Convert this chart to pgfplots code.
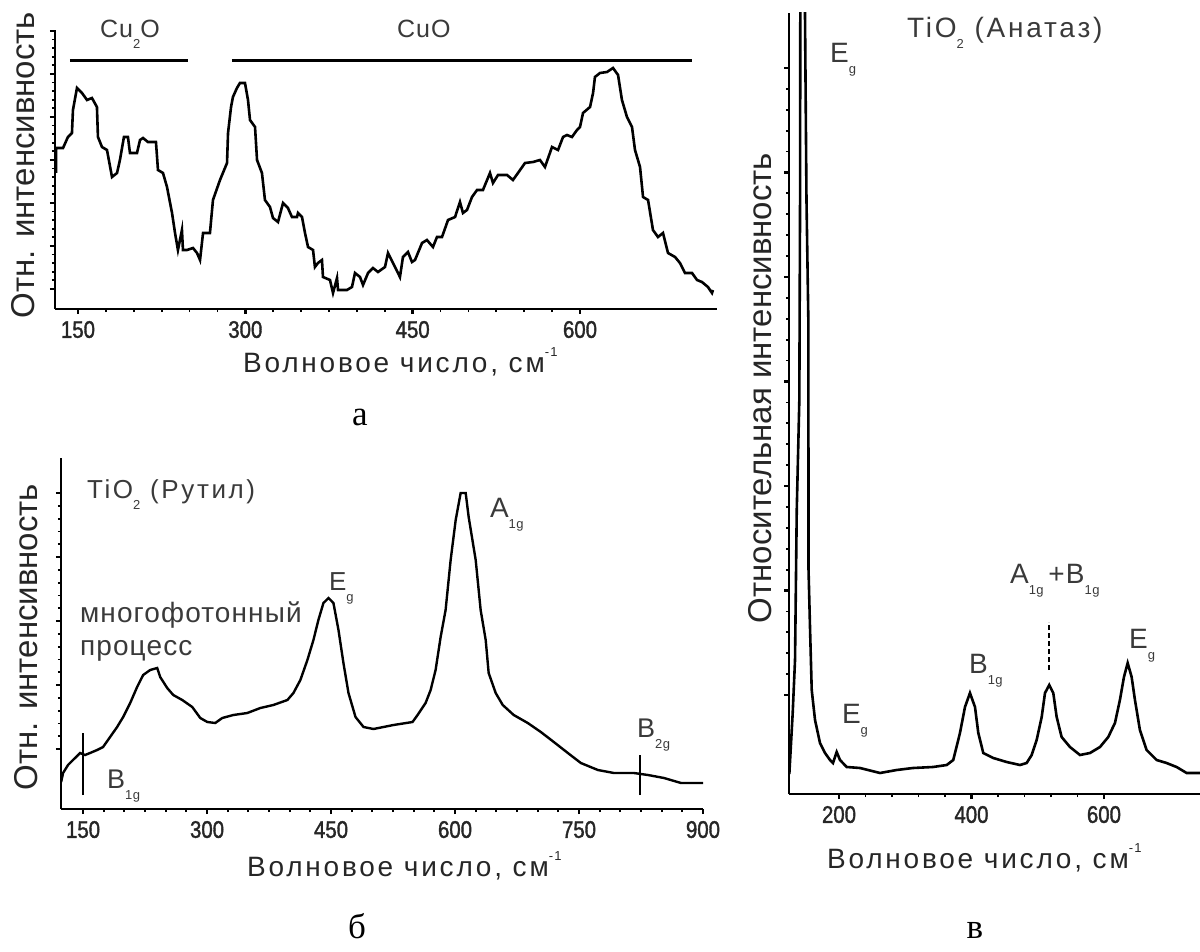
\documentclass[border=0pt]{standalone}
\usepackage{fontspec}
\setmainfont{Liberation Sans}
\newfontfamily\capfont{Liberation Serif}
\newfontfamily\tickfont[FakeStretch=0.85,FakeBold=1.5]{Liberation Sans}
\newfontfamily\spfont[LetterSpace=10]{Liberation Sans}
\newfontfamily\annfont[LetterSpace=4]{Liberation Sans}
\usepackage{pgfplots}
\pgfplotsset{compat=1.18}
\definecolor{txt}{HTML}{262626}
\definecolor{ann}{HTML}{3A3A3A}
\newcommand{\sub}[1]{\raisebox{-5.5pt}{\fontsize{6.5}{6.5}\selectfont #1}}
\newcommand{\cm}{см\raisebox{8pt}{\fontsize{6.5}{6.5}\selectfont -1}}
\pgfplotsset{
  panel/.style={
    scale only axis,
    anchor=south west,
    axis lines=left,
    axis line style={-, line width=1.3pt},
    tick align=outside,
    major tick length=2.5pt,
    minor tick length=1.6pt,
    major tick style={line width=1.2pt, black},
    minor tick style={line width=0.9pt, black},
    yticklabels={},
    /pgf/number format/assume math mode=true,
    xticklabel style={font=\tickfont\fontsize{12}{12}\selectfont, text=txt},
    clip=true,
  }
}
\begin{document}
\begin{tikzpicture}
\path[use as bounding box] (0,0) rectangle (600pt,-476pt);

% ---------- panel a ----------
\begin{axis}[panel, at={(27.5pt,-154.5pt)}, width=331pt, height=139.5pt,
  xmin=129.4, xmax=722.8, ymin=0, ymax=279,
  xtick={150,300,450,600}, minor x tick num=5,
  ytick={20,63,106,149,192,235,278}, minor y tick num=4]
\addplot[black, line width=1.3pt] coordinates {
(130.3,136)(130.3,161)(136.6,161)(141.0,172)(144.6,176)(145.5,199)(149.1,221)(153.6,216)(158.1,209)(162.5,211)(167.0,202)(167.9,172)(171.5,162)(176.0,159)(180.5,132)(185.0,136)(187.6,149)(191.2,172)(194.8,172)(196.6,156)(202.9,156)(205.6,169)(208.3,171)(212.7,167)(219.9,167)(221.7,139)(226.2,136)(229.8,122)(234.3,96)(237.0,76)(239.6,59)(243.2,79)(244.1,59)(247.7,59)(253.1,61)(256.7,56)(259.4,49)(262.1,76)(268.3,76)(271.0,109)(277.3,129)(283.6,146)(284.5,176)(287.2,202)(288.9,212)(292.5,221)(295.2,226)(299.7,226)(302.4,209)(304.2,189)(308.7,182)(310.5,149)(314.9,136)(317.6,109)(322.1,102)(324.8,91)(329.3,87)(333.8,106)(338.2,101)(341.8,92)(346.3,92)(347.2,96)(350.8,92)(353.5,76)(356.2,62)(360.7,59)(362.4,42)(365.1,46)(368.7,49)(369.6,32)(375.9,29)(378.6,16)(382.2,31)(383.1,19)(391.1,19)(395.6,22)(398.3,36)(402.8,32)(405.5,24)(410.0,36)(414.4,41)(418.9,37)(425.2,42)(427.9,56)(432.4,46)(438.6,32)(441.3,52)(445.8,57)(449.4,47)(452.1,49)(458.4,66)(462.8,69)(468.2,62)(471.8,72)(476.3,72)(481.7,89)(488.0,92)(492.4,107)(495.1,96)(498.7,99)(503.2,112)(507.7,119)(513.0,119)(519.3,136)(522.0,126)(526.5,134)(534.6,134)(539.9,129)(544.4,136)(550.7,146)(557.9,147)(564.1,149)(568.6,142)(574.9,162)(580.3,159)(584.8,172)(588.3,174)(592.8,172)(597.3,179)(600.0,182)(602.7,196)(609.0,202)(611.7,216)(613.4,232)(617.9,236)(624.2,237)(629.6,241)(634.1,234)(637.6,209)(642.1,192)(646.6,182)(649.3,159)(653.8,142)(656.5,112)(661.0,109)(665.4,79)(669.9,72)(674.4,76)(678.9,56)(685.2,52)(689.6,46)(694.1,36)(700.4,36)(704.9,29)(709.3,27)(714.7,22)(718.3,16)(719.2,19)
};
\addplot[black, line width=1.5pt] coordinates {(142.8,248) (248.6,248)};
\addplot[black, line width=1.5pt] coordinates {(288.0,248) (700.4,248)};
\end{axis}

% ---------- panel b ----------
\begin{axis}[panel, at={(30.5pt,-404.5pt)}, width=321pt, height=175.5pt,
  xmin=123.3, xmax=900, ymin=0, ymax=351,
  xtick={150,300,450,600,750,900}, minor x tick num=5,
  ytick={60,124,188,252,316}, minor y tick num=4]
\addplot[black, line width=1.2pt] coordinates {
(123.5,27)(125.8,36)(131.8,44)(140.3,51)(146.4,56)(152.4,54)(158.5,56)(167.0,59)(174.2,62)(182.7,72)(191.2,82)(198.5,92)(207.0,106)(215.4,122)(222.7,134)(231.2,139)(239.7,141)(243.3,132)(251.8,121)(259.1,114)(270.0,109)(282.1,102)(291.8,91)(300.3,87)(309.9,86)(318.4,91)(331.8,94)(348.7,96)(364.5,101)(380.2,104)(397.2,109)(404.5,116)(412.9,129)(421.4,149)(428.7,169)(434.7,189)(440.8,206)(446.9,211)(452.9,206)(459.0,179)(465.0,146)(471.1,116)(479.6,92)(489.3,82)(501.4,80)(513.5,82)(525.6,84)(548.6,87)(554.7,94)(564.4,106)(570.5,119)(576.5,139)(582.6,172)(588.6,199)(594.7,249)(600.8,289)(606.8,316)(612.9,316)(616.5,292)(625.0,249)(631.0,199)(637.1,169)(640.7,136)(649.2,116)(657.7,104)(671.0,94)(688.0,86)(703.8,77)(719.5,67)(736.5,56)(752.2,46)(772.8,39)(792.2,36)(816.5,36)(833.4,34)(852.8,31)(873.4,26)(900,26)
};
\addplot[black, line width=0.7pt] coordinates {(150,14) (150,76)};
\addplot[black, line width=0.7pt] coordinates {(824,14) (824,54)};
\end{axis}

% ---------- panel v ----------
\begin{axis}[panel, at={(394.5pt,-397pt)}, width=205.5pt, height=390.5pt,
  xmin=124.5, xmax=745, ymin=0, ymax=781,
  xtick={200,400,600}, minor x tick num=4,
  ytick={99,203.5,308,412.5,517,621.5,726}, minor y tick num=4]
\addplot[black, line width=1.3pt] coordinates {
(125,20)(130,80)(133.6,134)(136.2,284)(140.1,394)(141.2,594)(141.8,900)(144.5,1300)(147.2,900)(150.9,594)(153.7,474)(154.0,224)(156.2,167)(158.8,104)(163.8,74)(171.3,51)(178.9,41)(186.4,34)(190.9,31)(196.5,42)(201.5,34)(211.6,27)(231.7,26)(261.9,21)(287.1,24)(311.7,26)(341.9,27)(362.6,29)(372.5,34)(382.6,61)(390.2,87)(397.7,101)(405.3,87)(410.3,61)(417.8,41)(432.9,36)(453.1,32)(473.2,29)(483.3,31)(490.9,39)(498.4,54)(506.0,77)(511.0,101)(517.4,109)(523.5,101)(528.6,77)(536.1,57)(548.7,47)(563.8,39)(578.9,41)(594.0,47)(606.5,57)(616.6,71)(624.1,94)(630.2,117)(635.8,131)(641.8,117)(646.8,94)(654.3,64)(664.4,44)(679.5,34)(694.6,31)(709.7,27)(724.8,21)(744.9,21)
};
\addplot[black, line width=0.9pt, dash pattern=on 2.5pt off 1.5pt] coordinates {(517.4,124) (517.4,172)};
\end{axis}

\begin{scope}[x=0.5pt,y=-0.5pt]
% panel a texts
\node[anchor=base west, text=ann, font=\annfont\fontsize{12.5}{12.5}\selectfont] at (93,38) {Cu\sub{2}O};
\node[anchor=base west, text=ann, font=\annfont\fontsize{12.5}{12.5}\selectfont] at (390,38) {CuO};
\node[rotate=90, text=txt, font=\fontsize{16.5}{16.5}\selectfont] at (23,165) {Отн. интенсивность};
\node[anchor=base west, text=txt, font=\spfont\fontsize{14}{14}\selectfont] at (236,372) {Волновое число, \cm};
\node[anchor=base, font=\capfont\fontsize{17.5}{17.5}\selectfont] at (360,425) {а};
% panel b texts
\node[anchor=base west, text=ann, font=\spfont\fontsize{13}{13}\selectfont] at (80,498) {TiO\sub{2} (Рутил)};
\node[anchor=base west, text=ann, font=\annfont\fontsize{14}{14}\selectfont] at (73,622) {многофотонный};
\node[anchor=base west, text=ann, font=\annfont\fontsize{14}{14}\selectfont] at (73,655) {процесс};
\node[anchor=base west, text=ann, font=\annfont\fontsize{13}{13}\selectfont] at (322,590) {E\sub{g}};
\node[anchor=base west, text=ann, font=\annfont\fontsize{14}{14}\selectfont] at (483,517) {A\sub{1g}};
\node[anchor=base west, text=ann, font=\annfont\fontsize{13.5}{13.5}\selectfont] at (630,737) {B\sub{2g}};
\node[anchor=base west, text=ann, font=\annfont\fontsize{13.5}{13.5}\selectfont] at (100,788) {B\sub{1g}};
\node[rotate=90, text=txt, font=\fontsize{16.5}{16.5}\selectfont] at (26,637) {Отн. интенсивность};
\node[anchor=base west, text=txt, font=\spfont\fontsize{14}{14}\selectfont] at (240,876) {Волновое число, \cm};
\node[anchor=base, inner sep=1pt, font=\capfont\fontsize{17.5}{17.5}\selectfont] at (357,938) {б};
% panel v texts
\node[anchor=base west, text=ann, font=\annfont\fontsize{14}{14}\selectfont] at (823,63) {E\sub{g}};
\node[anchor=base west, text=ann, font=\spfont\fontsize{14}{14}\selectfont] at (900,38) {TiO\sub{2} (Анатаз)};
\node[anchor=base west, text=ann, font=\annfont\fontsize{14}{14}\selectfont] at (835,723) {E\sub{g}};
\node[anchor=base west, text=ann, font=\annfont\fontsize{14}{14}\selectfont] at (962,673) {B\sub{1g}};
\node[anchor=base west, text=ann, font=\annfont\fontsize{14}{14}\selectfont] at (1003,583) {A\sub{1g}\,+B\sub{1g}};
\node[anchor=base west, text=ann, font=\annfont\fontsize{14}{14}\selectfont] at (1122,648) {E\sub{g}};
\node[rotate=90, text=txt, font=\fontsize{16.5}{16.5}\selectfont] at (760,388) {Относительная интенсивность};
\node[anchor=base west, text=txt, font=\spfont\fontsize{14}{14}\selectfont] at (820,868) {Волновое число, \cm};
\node[anchor=base, inner sep=1pt, font=\capfont\fontsize{17.5}{17.5}\selectfont] at (975,938) {в};
\end{scope}
\end{tikzpicture}
\end{document}
